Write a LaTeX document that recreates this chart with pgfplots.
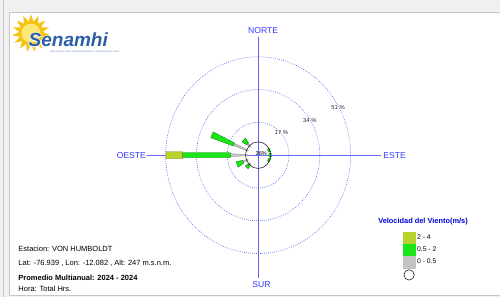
\documentclass[border=0pt]{standalone}
\usepackage{fontspec}
\setmainfont{Liberation Sans}
\usepackage{pgfplots}
\pgfplotsset{compat=1.18}
\usetikzlibrary{shapes.geometric}
\definecolor{c24}{RGB}{185,210,45}
\definecolor{c24d}{RGB}{110,125,20}
\definecolor{c052}{RGB}{25,230,25}
\definecolor{c052d}{RGB}{0,120,0}
\definecolor{c005}{RGB}{195,195,195}
\definecolor{c005d}{RGB}{140,140,140}
\definecolor{axc}{RGB}{105,105,255}
\definecolor{lbl}{RGB}{55,55,255}
\definecolor{ringc}{RGB}{90,90,235}
\definecolor{logoblue}{RGB}{45,95,165}
\definecolor{sunc}{RGB}{245,195,20}
\definecolor{sunin}{RGB}{255,232,120}
\begin{document}
\begin{tikzpicture}[x=1pt,y=1pt]
% window frame
\fill[black!6] (0,0) rectangle (500,297);
\draw[black!22, line width=0.5pt] (3,0) -- (3,297);
\fill[white] (9,2) rectangle (500,285);
\draw[black!22, line width=0.6pt] (500,2) -- (9,2) -- (9,285) -- (500,285);
% rings (centre at 258.3,142)
\begin{scope}[ringc, line width=0.6pt, dash pattern=on 0.7pt off 1.3pt]
\draw (258.3,142) ellipse [x radius=30.84, y radius=32.81];
\draw (258.3,142) ellipse [x radius=61.68, y radius=65.62];
\draw (258.3,142) ellipse [x radius=92.51, y radius=98.43];
\end{scope}
% compass lines
\draw[axc, line width=0.8pt] (146.7,142) -- (381.7,142);
\draw[axc!90!blue, line width=0.8pt] (258.3,260.3) -- (258.3,19);
\begin{axis}[at={(0,0)}, anchor=south west, width=500pt, height=297pt,
  scale only axis, xmin=-142.39, xmax=133.24, ymin=-73.58, ymax=80.31,
  hide axis, clip=false,
  legend style={at={(0.8066,0.2199)}, anchor=north west, draw=none, fill=none,
    inner sep=0pt, outer sep=0pt, row sep=0pt, column sep=2pt,
    font=\fontsize{6.8}{7}\selectfont,
    nodes={inner sep=0pt, minimum height=11.7pt}},
  legend cell align=left]
\addlegendimage{legend image code/.code={\fill[c24] (0pt,-5.85pt) rectangle (11.7pt,5.85pt);}}
\addlegendentry{2 - 4}
\addlegendimage{legend image code/.code={\fill[c052] (0pt,-5.85pt) rectangle (11.7pt,5.85pt);}}
\addlegendentry{0.5 - 2}
\addlegendimage{legend image code/.code={\fill[c005] (0pt,-5.85pt) rectangle (11.7pt,5.85pt);}}
\addlegendentry{0 - 0.5}
\addlegendimage{legend image code/.code={\draw[black, line width=0.5pt] (5.85pt,-1pt) circle (5.2pt);}}
\addlegendentry{}
% ---- petals (angle in degrees, radius in %) ----
\pgfplotsset{
  pg/.style={data cs=polar, forget plot, fill=c005, draw=c005d, line width=0.3pt},
  pn/.style={data cs=polar, forget plot, fill=c052, draw=c052d, line width=0.3pt},
  py/.style={data cs=polar, forget plot, fill=c24, draw=c24d, line width=0.3pt}}
% W
\addplot[pg] coordinates {(177.1,6.0) (182.9,6.0) (182.9,15.4) (177.1,15.4)} -- cycle;
\addplot[pn] coordinates {(175.0,15.4) (185.0,15.4) (181.85,41.7) (178.15,41.7)} -- cycle;
\addplot[py] coordinates {(177.61,41.7) (182.39,41.7) (181.96,50.9) (178.04,50.9)} -- cycle;
% WNW
\addplot[pg] coordinates {(154.9,6.0) (160.1,6.0) (160.1,14.6) (154.9,14.6)} -- cycle;
\addplot[pn] coordinates {(154.1,14.6) (160.9,14.6) (160.9,27.6) (154.1,27.6)} -- cycle;
% NW
\addplot[pg] coordinates {(132.0,6.0) (138.0,6.0) (138.0,8.3) (132.0,8.3)} -- cycle;
\addplot[pn] coordinates {(130.0,8.3) (140.0,8.3) (142.0,11.3) (128.0,11.3)} -- cycle;
% WSW
\addplot[pg] coordinates {(199.5,6.0) (205.5,6.0) (205.5,9.0) (199.5,9.0)} -- cycle;
\addplot[pn] coordinates {(197.5,9.0) (207.5,9.0) (209.5,12.7) (195.5,12.7)} -- cycle;
% SW
\addplot[pg] coordinates {(222.0,6.0) (228.0,6.0) (228.0,7.3) (222.0,7.3)} -- cycle;
\addplot[pn] coordinates {(219.0,7.3) (231.0,7.3) (232.0,9.0) (218.0,9.0)} -- cycle;
% ENE, E, ESE
\addplot[pn] coordinates {(14.5,6.0) (30.5,6.0) (30.5,7.1) (14.5,7.1)} -- cycle;
\addplot[pn] coordinates {(-8.0,6.0) (8.0,6.0) (8.0,7.3) (-8.0,7.3)} -- cycle;
\addplot[pn] coordinates {(-30.5,6.0) (-14.5,6.0) (-14.5,7.1) (-30.5,7.1)} -- cycle;
\end{axis}
% calm circle
\draw[black!85, line width=0.6pt] (258.3,142) ellipse [x radius=12.5, y radius=13.3];
\node[inner sep=0pt, font=\fontsize{5.6}{6}\selectfont] at (261.5,143.7) {36\%};
% ring labels
\begin{scope}[font=\fontsize{5.8}{6}\selectfont, text=black!85]
\node[inner sep=0pt] at (281.7,164.3) {17 \%};
\node[inner sep=0pt] at (310.0,177.0) {34 \%};
\node[inner sep=0pt] at (338.3,189.3) {51 \%};
\end{scope}
% direction labels
\begin{scope}[font=\fontsize{8.6}{9}\selectfont, text=lbl]
\node[inner sep=0pt] at (263.3,267) {NORTE};
\node[inner sep=0pt] at (261.7,13) {SUR};
\node[inner sep=0pt, anchor=east] at (146.2,141.5) {OESTE};
\node[inner sep=0pt, anchor=west] at (383.5,141.5) {ESTE};
\end{scope}
% legend title
\node[inner sep=0pt, anchor=west, font=\fontsize{7.4}{8}\selectfont\bfseries, text=blue!85!black] at (378.3,76) {Velocidad del Viento(m/s)};
% station info
\begin{scope}[font=\fontsize{7.5}{8}\selectfont]
\node[inner sep=0pt, anchor=west] at (18.3,48.7) {Estacion: VON HUMBOLDT};
\node[inner sep=0pt, anchor=west] at (18.3,33.7) {Lat: -76.939 , Lon: -12.082 , Alt: 247 m.s.n.m.};
\node[inner sep=0pt, anchor=west, font=\fontsize{7.5}{8}\selectfont\bfseries] at (18.3,19.3) {Promedio Multianual: 2024 - 2024};
\node[inner sep=0pt, anchor=west] at (18.3,8.7) {Hora: Total Hrs.};
\end{scope}
% logo
\node[star, star points=15, star point ratio=1.6, fill=sunc, minimum size=38pt, inner sep=0pt] at (31,264) {};
\fill[sunin] (31,264) circle (9.5);
\foreach \dx/\dy in {-0.5/0,0.5/0,0/0.5,0/-0.5,-0.4/0.4,0.4/-0.4,0.4/0.4,-0.4/-0.4}
  \node[inner sep=0pt, anchor=base west, font=\fontsize{19}{19}\selectfont\bfseries\itshape, text=white] at (28.5+\dx,250.5+\dy) {Senamhi};
\node[inner sep=0pt, anchor=base west, font=\fontsize{19}{19}\selectfont\bfseries\itshape, text=logoblue] at (28.5,250.5) {Senamhi};
\node[inner sep=0pt, anchor=base west, font=\fontsize{2.1}{2.2}\selectfont, text=logoblue!80] at (50,244.5) {SERVICIO NACIONAL DE METEOROLOGÍA E HIDROLOGÍA DEL PERÚ};
\end{tikzpicture}
\end{document}
